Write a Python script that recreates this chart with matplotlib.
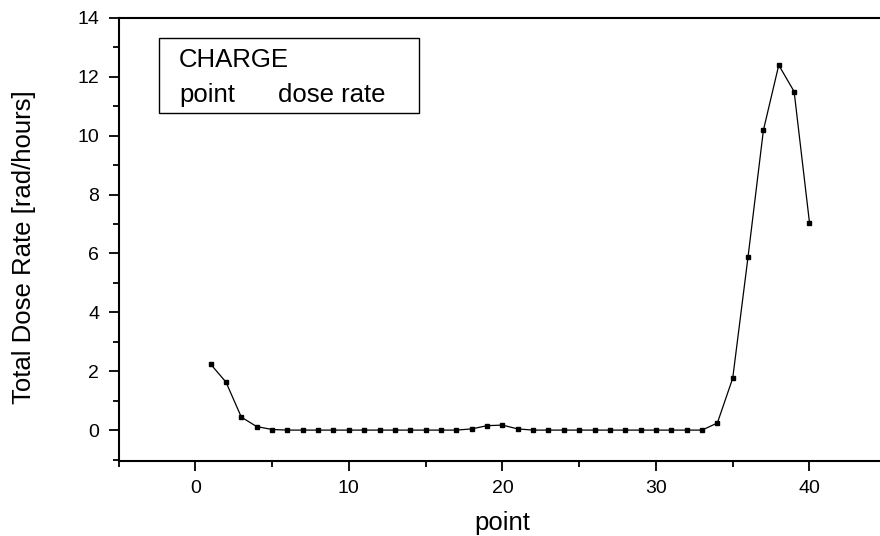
import matplotlib
matplotlib.use("Agg")
import matplotlib.pyplot as plt
from matplotlib.ticker import MultipleLocator

# data
points = list(range(1, 41))
dose_rate = [2.24, 1.63, 0.44, 0.12, 0.02, 0.0, 0.0, 0.0, 0.0, 0.0,
             0.0, 0.0, 0.0, 0.0, 0.0, 0.0, 0.0, 0.04, 0.15, 0.17,
             0.04, 0.0, 0.0, 0.0, 0.0, 0.0, 0.0, 0.0, 0.0, 0.0,
             0.0, 0.0, 0.0, 0.24, 1.76, 5.89, 10.19, 12.40, 11.50, 7.05]

plt.rcParams['font.family'] = ['Liberation Sans', 'DejaVu Sans']

W, H = 880, 536
fig = plt.figure(figsize=(W / 100, H / 100), dpi=100)
ax = fig.add_axes([118.5 / W, 1 - 461 / H, (W - 118.5) / W + 0.001, (461 - 18) / H])

ax.plot(points, dose_rate, color='black', lw=0.9, marker='s', ms=3.5,
        markerfacecolor='black', markeredgecolor='black')

ax.set_xlim(-5, 44.65)
ax.set_ylim(-1.05, 14)
ax.xaxis.set_major_locator(MultipleLocator(10))
ax.xaxis.set_minor_locator(MultipleLocator(5))
ax.yaxis.set_major_locator(MultipleLocator(2))
ax.yaxis.set_minor_locator(MultipleLocator(1))

for s in ['left', 'bottom', 'top']:
    ax.spines[s].set_linewidth(1.5)
ax.spines['right'].set_visible(False)
ax.tick_params(which='major', direction='out', length=7, width=1.3,
               labelsize=14, top=False, right=False)
ax.tick_params(axis='x', which='major', pad=7)
ax.tick_params(axis='y', which='major', pad=7)
ax.tick_params(which='minor', direction='out', length=4, width=1.3,
               top=False, right=False)

# axis titles placed where the reference has them
fig.text(502 / W, 1 - 530 / H, 'point', fontsize=18.5, ha='center', va='baseline')
fig.text(24 / W, 1 - 247.5 / H, 'Total Dose Rate [rad/hours]', fontsize=18.5,
         rotation=90, ha='center', va='center')

# legend-like box
fig.patches.append(plt.Rectangle((159 / W, 1 - 113.3 / H), (419.3 - 159) / W,
                                 (113.3 - 37.7) / H, transform=fig.transFigure,
                                 fill=False, edgecolor='black', lw=1.0))
fig.text(179 / W, 1 - 67.3 / H, 'CHARGE', fontsize=18.5, va='baseline', ha='left')
fig.text(179 / W, 1 - 102.3 / H, 'point', fontsize=18.5, va='baseline', ha='left')
fig.text(278 / W, 1 - 102.3 / H, 'dose rate', fontsize=18.5, va='baseline', ha='left')

fig.savefig('out.png', dpi=100)
